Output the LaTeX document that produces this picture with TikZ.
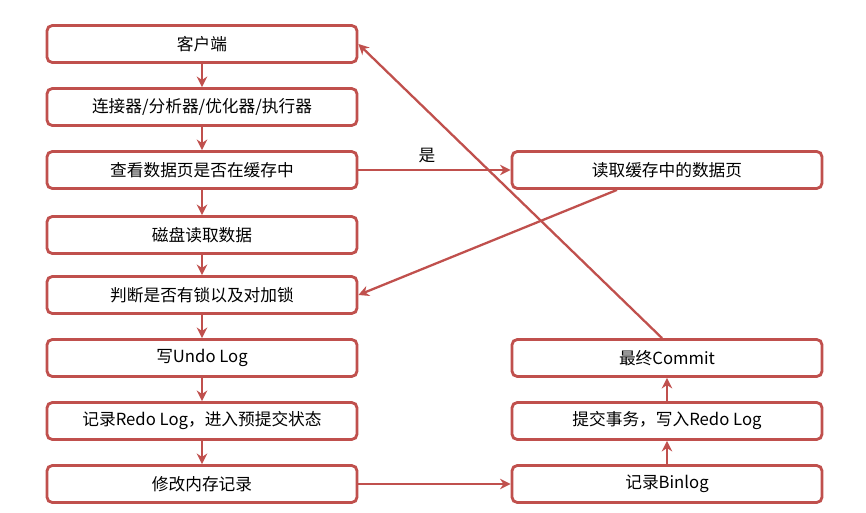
\documentclass[tikz,border=0pt]{standalone}
\usepackage{fontspec}
\setmainfont{Noto Sans CJK SC}
\usetikzlibrary{arrows.meta,calc}
\definecolor{rd}{HTML}{C0504D}
\begin{document}
\begin{tikzpicture}[x=0.02cm,y=-0.02cm,
 box/.style={draw=rd,line width=1.6pt,rounded corners=3pt,fill=white,minimum width=310*0.02cm,minimum height=37*0.02cm,font=\fontsize{9.5}{10}\selectfont},
 arr/.style={draw=rd,line width=1.3pt,-{Stealth[length=6pt,width=6pt]}}]
\useasboundingbox (0,0) rectangle (866,513);
\node[box] (a) at (202,44) {客户端};
\node[box] (b) at (202,107) {连接器/分析器/优化器/执行器};
\node[box] (c) at (202,170) {查看数据页是否在缓存中};
\node[box] (d) at (202,235) {磁盘读取数据};
\node[box] (e) at (202,295) {判断是否有锁以及对加锁};
\node[box] (f) at (202,358) {写Undo Log};
\node[box] (g) at (202,421) {记录Redo Log，进入预提交状态};
\node[box] (h) at (202,484) {修改内存记录};
\node[box] (r1) at (667,170) {读取缓存中的数据页};
\node[box] (r2) at (667,358) {最终Commit};
\node[box] (r3) at (667,421) {提交事务，写入Redo Log};
\node[box] (r4) at (667,484) {记录Binlog};
\foreach \u/\v in {a/b,b/c,c/d,d/e,e/f,f/g,g/h,r4/r3,r3/r2} \draw[arr] (\u) -- (\v);
\draw[arr] (c) -- node[above,font=\fontsize{9.5}{10}\selectfont,pos=0.45]{是} (r1);
\coordinate (s1) at ($(r1.south)+(-50,0)$);
\draw[arr] (s1) -- (e.east);
\draw[arr] (h) -- (r4);
\coordinate (s2) at ($(r2.north)+(-5,0)$);
\draw[arr] (s2) -- (a.east);
\end{tikzpicture}
\end{document}
